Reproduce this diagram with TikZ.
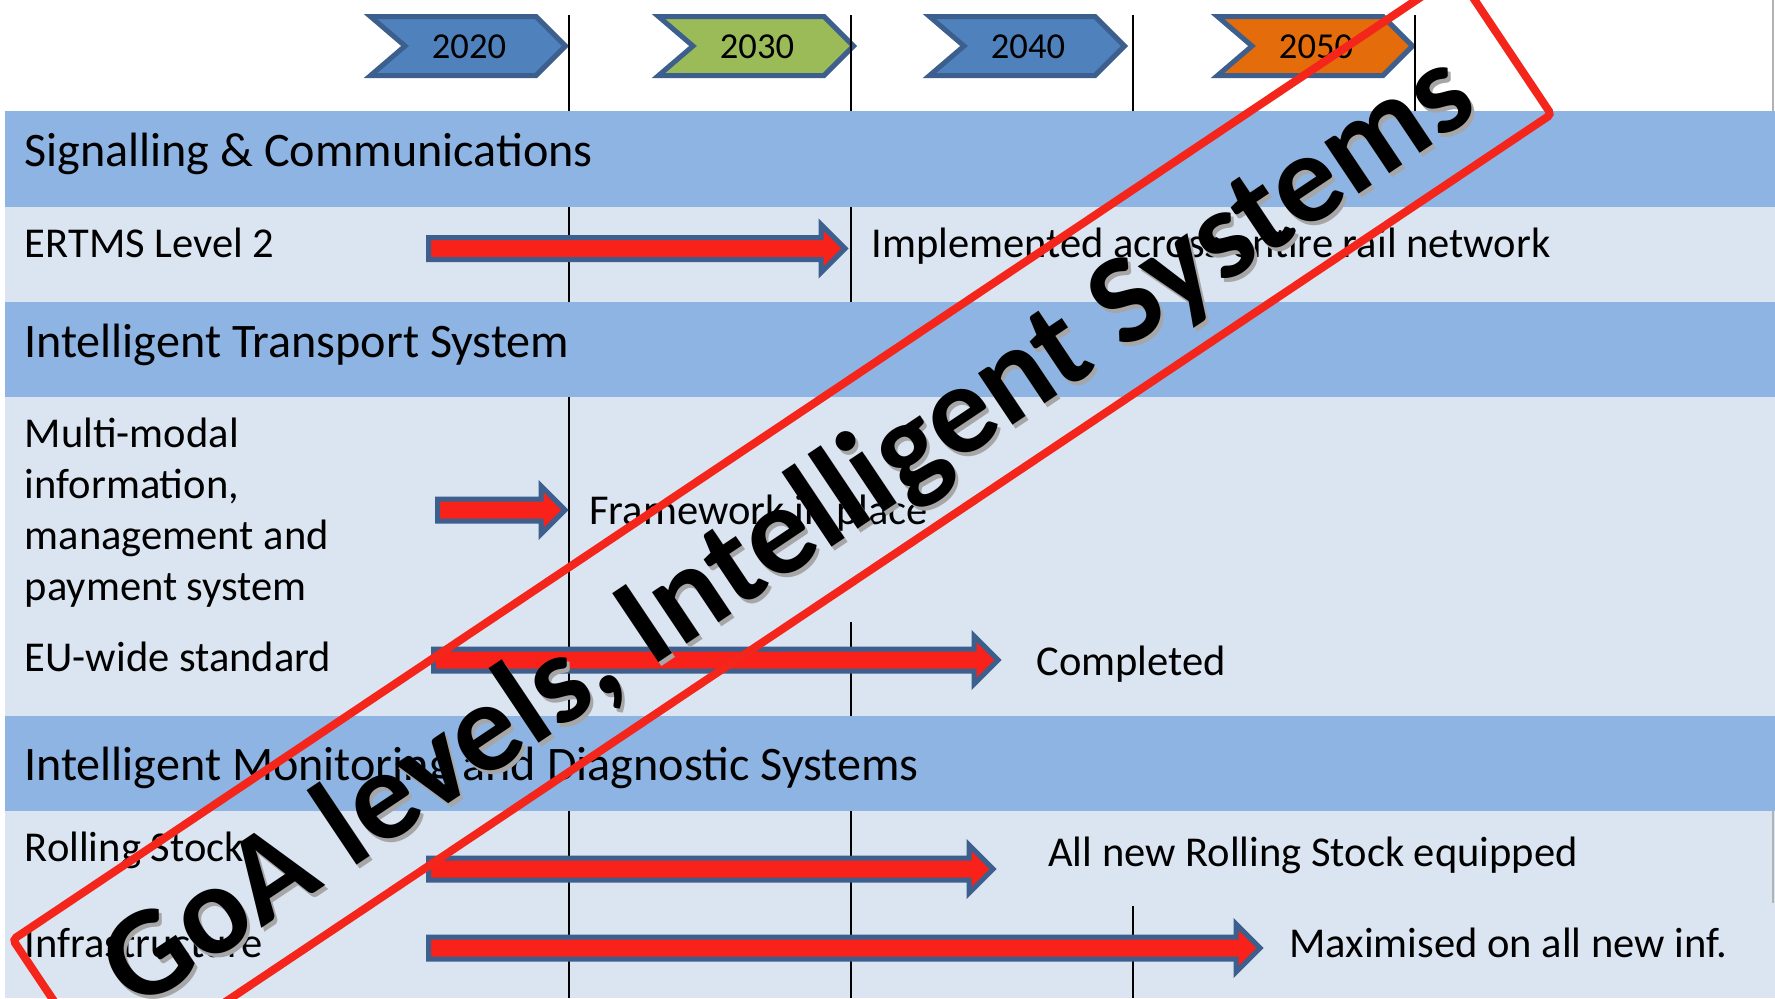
\documentclass[tikz,border=0pt]{standalone}
\usepackage{fontspec}
\setmainfont{Carlito}
\definecolor{bandblue}{HTML}{8EB4E3}
\definecolor{rowblue}{HTML}{DBE5F1}
\definecolor{edgeblue}{HTML}{3C5F8E}
\definecolor{chevblue}{HTML}{4F81BD}
\definecolor{chevgreen}{HTML}{9BBB59}
\definecolor{chevorange}{HTML}{E46C0A}
\definecolor{barred}{HTML}{F8221A}
\definecolor{stampred}{HTML}{F4261C}

\begin{document}
\begin{tikzpicture}
[x=0.2mm,y=-0.2mm,
band/.style={fill=bandblue,draw=none},
rowbg/.style={fill=rowblue,draw=none},
yearline/.style={draw=black,line width=0.4mm},
chev/.style={draw=edgeblue,line width=1mm,line join=miter},
yeartext/.style={inner sep=0pt,font=\fontsize{20.8}{25}\selectfont},
headtext/.style={anchor=base west,inner sep=0pt,font=\fontsize{27.4}{33}\selectfont},
itemtext/.style={anchor=base west,inner sep=0pt,align=left,font=\fontsize{24.2}{29}\selectfont},
timebar/.style={fill=barred,draw=edgeblue,line width=1mm,line join=miter},
stampframe/.style={draw=stampred,line width=1.6mm,rounded corners=0.8mm,inner sep=0pt,minimum width=347.5mm,minimum height=34mm,rotate=33.8},
stamptext/.style={inner sep=0pt,rotate=33.8,font=\fontsize{72.8}{80}\selectfont\bfseries}]
\useasboundingbox (0,0) rectangle (1775,998);
\clip (0,0) rectangle (1775,998);
\fill[white] (0,0) rectangle (1775,998);

% bands and rows
\fill[band] (5,111) rectangle (1775,207);
\fill[rowbg] (5,207) rectangle (1775,302);
\fill[band] (5,302) rectangle (1775,397);
\fill[rowbg] (5,397) rectangle (1775,716);
\fill[band] (5,716) rectangle (1775,811);
\fill[rowbg] (5,811) rectangle (1775,998);
\draw[gray!60,line width=0.3mm] (1773,0) -- (1773,111);
\draw[gray!60,line width=0.3mm] (1773,811) -- (1773,903);

% year chevrons
\draw[chev,fill=chevblue] (370.5,16.5) -- ++(165.5,0) -- ++(29.5,29.5) -- ++(-29.5,29.5) -- ++(-165.5,0) -- ++(34.5,-29.5) -- cycle;
\draw[chev,fill=chevgreen] (658.5,16.5) -- ++(165.5,0) -- ++(29.5,29.5) -- ++(-29.5,29.5) -- ++(-165.5,0) -- ++(34.5,-29.5) -- cycle;
\draw[chev,fill=chevblue] (929.5,16.5) -- ++(165.5,0) -- ++(29.5,29.5) -- ++(-29.5,29.5) -- ++(-165.5,0) -- ++(34.5,-29.5) -- cycle;
\draw[chev,fill=chevorange] (1217.5,16.5) -- ++(165.5,0) -- ++(29.5,29.5) -- ++(-29.5,29.5) -- ++(-165.5,0) -- ++(34.5,-29.5) -- cycle;
\node[yeartext] (y2020) at (469,47) {2020};
\node[yeartext] (y2030) at (757,47) {2030};
\node[yeartext] (y2040) at (1028,47) {2040};
\node[yeartext] (y2050) at (1316,47) {2050};

% year lines
\draw[yearline] (569,15) -- (569,111);
\draw[yearline] (851,15) -- (851,111);
\draw[yearline] (1133,15) -- (1133,111);
\draw[yearline] (1415,15) -- (1415,111);
\draw[yearline] (569,207) -- (569,302);
\draw[yearline] (851,207) -- (851,302);
\draw[yearline] (569,397) -- (569,716);
\draw[yearline] (851,622) -- (851,716);
\draw[yearline] (569,811) -- (569,998);
\draw[yearline] (851,811) -- (851,998);
\draw[yearline] (1133,906) -- (1133,998);

% time bars
\draw[timebar] (428.5,237.5) -- (821,237.5) -- (821,224.5) -- (845,248.5) -- (821,272.5) -- (821,259.5) -- (428.5,259.5) -- cycle;
\draw[timebar] (437.5,499) -- (541,499) -- (541,486) -- (565,510) -- (541,534) -- (541,521) -- (437.5,521) -- cycle;
\draw[timebar] (433.5,649) -- (974,649) -- (974,636) -- (998,660) -- (974,684) -- (974,671) -- (433.5,671) -- cycle;
\draw[timebar] (428.5,858) -- (969,858) -- (969,845) -- (993,869) -- (969,893) -- (969,880) -- (428.5,880) -- cycle;
\draw[timebar] (428.5,937) -- (1236,937) -- (1236,924) -- (1260,948) -- (1236,972) -- (1236,959) -- (428.5,959) -- cycle;

% headers
\node[headtext] (sigcom) at (24,166.5) {Signalling \& Communications};
\node[headtext] (its) at (24,357.5) {Intelligent Transport System};
\node[headtext] (imds) at (24,780) {Intelligent Monitoring and Diagnostic Systems};

% items
\node[itemtext] (ertms) at (24.5,257) {ERTMS Level 2};
\node[itemtext] (multimodal) at (24.5,600) {Multi-modal\\information,\\management and\\payment system};
\node[itemtext] (euwide) at (24.5,671) {EU-wide standard};
\node[itemtext] (rolling) at (24.5,861) {Rolling Stock};
\node[itemtext] (infra) at (24.5,957) {Infrastructure};

% outcomes
\node[itemtext] (implemented) at (871,257) {Implemented across entire rail network};
\node[itemtext] (framework) at (589,524) {Framework in place};
\node[itemtext] (completed) at (1036,675) {Completed};
\node[itemtext] (allnew) at (1048,866.5) {All new Rolling Stock equipped};
\node[itemtext] (maximised) at (1289,957.5) {Maximised on all new inf.};

% stamp
\node[stampframe] (goa) at (782,527) {};
\node[stamptext,text=black!35] (goashadow) at (793,538) {GoA levels, Intelligent Systems};
\node[stamptext] (goatext) at (790,534) {GoA levels, Intelligent Systems};
\end{tikzpicture}
\end{document}
